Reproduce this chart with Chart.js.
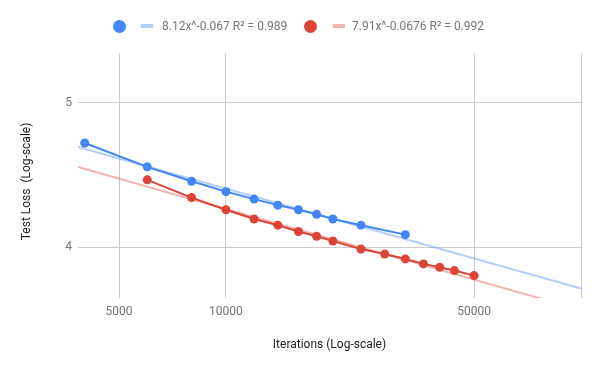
<!DOCTYPE html>
<html>
<head>
<meta charset="utf-8">
<script src="https://cdn.jsdelivr.net/npm/chart.js@4"></script>
<style>
  body { margin: 0; background: #fff; font-family: Roboto, sans-serif; }
  #wrap { position: relative; width: 600px; height: 371px; }
  .dot { position: absolute; width: 13px; height: 13px; border-radius: 50%; top: 20px; }
  .bar { position: absolute; width: 12px; height: 4px; top: 24px; }
  .txt { position: absolute; top: 18px; font-size: 12px; color: #757575; white-space: pre; line-height: 16px; }
</style>
</head>
<body>
<div id="wrap">
  <canvas id="chart"></canvas>
  <div class="dot" style="left:113px;background:#4285f4"></div>
  <div class="bar" style="left:141px;background:rgba(66,133,244,0.4)"></div>
  <div class="txt" id="labelBlue" style="left:162px"></div>
  <div class="dot" style="left:304px;background:#db4437"></div>
  <div class="bar" style="left:333px;background:rgba(219,68,55,0.4)"></div>
  <div class="txt" id="labelRed" style="left:352px"></div>
</div>
<script>
// Data
const iterationsBlue = [4000, 6000, 8000, 10000, 12000, 14000, 16000, 18000, 20000, 24000, 32000];
const lossBlue = [4.70, 4.53, 4.43, 4.36, 4.31, 4.27, 4.24, 4.21, 4.18, 4.14, 4.08];
const iterationsRed = [6000, 8000, 10000, 12000, 14000, 16000, 18000, 20000, 24000, 28000, 32000, 36000, 40000, 44000, 50000];
const lossRed = [4.44, 4.32, 4.24, 4.18, 4.14, 4.10, 4.07, 4.04, 3.99, 3.96, 3.93, 3.90, 3.88, 3.86, 3.83];

// Power trendlines as stated in the legend: y = a * x^b
const trendBlue = { a: 8.12, b: -0.067, label: '8.12x^-0.067 R\u00b2 = 0.989' };
const trendRed = { a: 7.91, b: -0.0676, label: '7.91x^-0.0676 R\u00b2 = 0.992' };

const xTicks = [5000, 10000, 50000, 100000];
const yTicks = [4, 5];
const xRange = [3830, 100000];
const yRange = [3.7, 5.4];

document.getElementById('labelBlue').textContent = trendBlue.label;
document.getElementById('labelRed').textContent = trendRed.label;

const toPoints = (xs, ys) => xs.map((x, i) => ({ x: x, y: ys[i] }));
const trendPoints = (t) => xRange.map(x => ({ x: x, y: t.a * Math.pow(x, t.b) }));

const tickFont = { family: 'Roboto', size: 12 };
const titleFont = { family: 'Roboto', size: 12 };

const ctx = document.getElementById('chart').getContext('2d');
new Chart(ctx, {
  type: 'line',
  data: {
    datasets: [
      {
        data: toPoints(iterationsBlue, lossBlue),
        borderColor: '#4285f4',
        backgroundColor: '#4285f4',
        borderWidth: 2,
        pointRadius: 4.5,
        pointBorderWidth: 0,
      },
      {
        data: toPoints(iterationsRed, lossRed),
        borderColor: '#db4437',
        backgroundColor: '#db4437',
        borderWidth: 2,
        pointRadius: 4.5,
        pointBorderWidth: 0,
      },
      {
        data: trendPoints(trendBlue),
        borderColor: 'rgba(66, 133, 244, 0.4)',
        borderWidth: 2,
        pointRadius: 0,
      },
      {
        data: trendPoints(trendRed),
        borderColor: 'rgba(219, 68, 55, 0.4)',
        borderWidth: 2,
        pointRadius: 0,
      },
    ],
  },
  options: {
    responsive: true,
    maintainAspectRatio: false,
    animation: false,
    layout: {
      padding: { top: 53, right: 19, left: 0, bottom: 0 },
    },
    plugins: {
      legend: { display: false },
      tooltip: { enabled: false },
    },
    scales: {
      x: {
        type: 'logarithmic',
        min: xRange[0],
        max: xRange[1],
        bounds: 'data',
        afterBuildTicks: (scale) => {
          scale.ticks = xTicks.map(v => ({ value: v }));
        },
        afterFit: (scale) => {
          scale.height = 73;
        },
        ticks: {
          font: tickFont,
          color: '#757575',
          padding: 7,
          maxRotation: 0,
          autoSkip: false,
          callback: (value) => (value === 100000 ? '' : String(value)),
        },
        grid: { color: '#cccccc', drawTicks: false },
        border: { display: false },
        title: {
          display: true,
          text: 'Iterations (Log-scale)',
          font: titleFont,
          color: '#222222',
          padding: { top: 0, bottom: 19 },
        },
      },
      y: {
        type: 'logarithmic',
        min: yRange[0],
        max: yRange[1],
        bounds: 'data',
        afterBuildTicks: (scale) => {
          scale.ticks = yTicks.map(v => ({ value: v }));
        },
        afterFit: (scale) => {
          scale.width = 78;
        },
        ticks: {
          font: tickFont,
          color: '#757575',
          padding: 6,
          autoSkip: false,
          callback: (value) => String(value),
        },
        grid: { color: '#cccccc', drawTicks: false },
        border: { display: false },
        title: {
          display: true,
          text: 'Test Loss  (Log-scale)    ',
          font: titleFont,
          color: '#222222',
          padding: { top: 20, bottom: 0 },
        },
      },
    },
  },
});
</script>
</body>
</html>
